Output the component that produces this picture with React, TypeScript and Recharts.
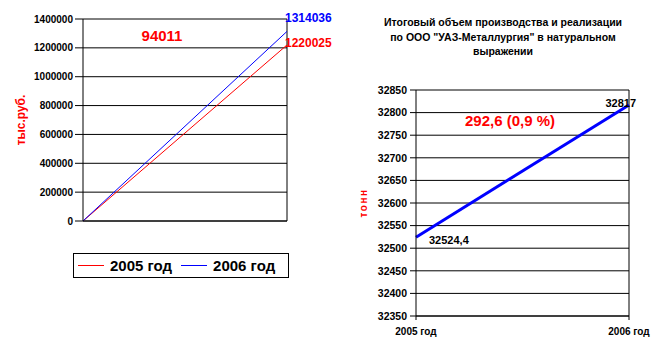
import React from "react";
import { LineChart, Line, XAxis, YAxis, CartesianGrid, Legend, LabelList, ReferenceLine } from "recharts";

const leftPoints = ["start", "end"];
const value2005 = [0, 1220025];
const value2006 = [0, 1314036];
const leftTicks = [0, 200000, 400000, 600000, 800000, 1000000, 1200000, 1400000];

const rightYears = ["2005 год", "2006 год"];
const tonnes = [32524.4, 32817];
const rightTicks = [32350, 32400, 32450, 32500, 32550, 32600, 32650, 32700, 32750, 32800, 32850];

const FONT = "'Liberation Sans', Arial, sans-serif";

const leftData = leftPoints.map((p, i) => ({ p, y2005: value2005[i], y2006: value2006[i] }));
const rightData = rightYears.map((year, i) => ({ year, t: tonnes[i] }));

function fmt(v: number) {
  return String(v).replace(".", ",");
}

// rotated axis title, placed at a fixed distance from the axis box's left edge
function AxisTitle({ viewBox, text, shift, size, spacing }: any) {
  const x = viewBox.x + shift;
  const y = viewBox.y + viewBox.height / 2;
  return (
    <text
      x={x}
      y={y}
      transform={`rotate(-90, ${x}, ${y})`}
      textAnchor="middle"
      dominantBaseline="central"
      fill="#ff0000"
      fontWeight="bold"
      fontSize={size}
      letterSpacing={spacing}
      fontFamily={FONT}
    >
      {text}
    </text>
  );
}

function endLabel(color: string, dy: number) {
  return (props: any) => {
    if (props.index !== 1) return null;
    return (
      <text x={props.x - 2} y={props.y + dy} fill={color} fontSize={12} fontWeight="bold" fontFamily={FONT}>
        {props.value}
      </text>
    );
  };
}

function tonLabel(props: any) {
  const { x, y, value, index } = props;
  if (index === 0) {
    return (
      <text x={x + 13} y={y + 7} fill="#000" fontSize={11} fontWeight="bold" fontFamily={FONT}>
        {fmt(value)}
      </text>
    );
  }
  return (
    <text x={x + 7} y={y + 2} textAnchor="end" fill="#000" fontSize={11} fontWeight="bold" fontFamily={FONT}>
      {fmt(value)}
    </text>
  );
}

function LegendBox() {
  const item = (color: string, label: string) => (
    <span style={{ display: "inline-flex", alignItems: "center" }}>
      <span style={{ display: "inline-block", width: 26, height: 1, background: color, marginRight: 6 }} />
      <span>{label}</span>
    </span>
  );
  return (
    <div
      style={{
        boxSizing: "border-box",
        width: 216,
        height: 25,
        border: "1px solid #000",
        display: "flex",
        alignItems: "center",
        gap: 9,
        paddingLeft: 4,
        fontFamily: FONT,
        fontWeight: "bold",
        fontSize: 15,
        color: "#000",
      }}
    >
      {item("#ff0000", "2005 год")}
      {item("#0000ff", "2006 год")}
    </div>
  );
}

const tickStyle = { fontSize: 10, fontWeight: "bold", fill: "#000", fontFamily: FONT };

export default function App() {
  return (
    <div style={{ position: "absolute", left: 0, top: 0, width: 670, height: 358, background: "#fff", fontFamily: FONT }}>
      <div style={{ position: "absolute", left: 0, top: 0 }}>
        <LineChart width={340} height={300} data={leftData} margin={{ top: 19, right: 53, left: 0, bottom: 78 }}>
          <CartesianGrid vertical={false} stroke="#000" />
          <XAxis dataKey="p" tick={false} tickLine={false} axisLine={{ stroke: "#000" }} height={1} />
          <YAxis
            width={83}
            domain={[0, 1400000]}
            ticks={leftTicks}
            interval={0}
            tick={tickStyle}
            tickSize={8}
            tickMargin={2}
            tickLine={{ stroke: "#000" }}
            axisLine={{ stroke: "#000" }}
            label={<AxisTitle text="тыс.руб." shift={21} size={12} spacing={0} />}
          />
          <ReferenceLine x="end" stroke="#000" />
          <Line type="linear" dataKey="y2005" name="2005 год" stroke="#ff0000" strokeWidth={1} dot={false} isAnimationActive={false}>
            <LabelList dataKey="y2005" content={endLabel("#ff0000", 2)} />
          </Line>
          <Line type="linear" dataKey="y2006" name="2006 год" stroke="#0000ff" strokeWidth={1} dot={false} isAnimationActive={false}>
            <LabelList dataKey="y2006" content={endLabel("#0000ff", -9)} />
          </Line>
          <Legend
            layout="horizontal"
            verticalAlign="middle"
            align="center"
            content={<LegendBox />}
            wrapperStyle={{ position: "absolute", left: 73, top: 253, width: 216 }}
          />
        </LineChart>
      </div>
      <div
        style={{
          position: "absolute",
          left: 110,
          top: 27,
          width: 104,
          textAlign: "center",
          color: "#ff0000",
          fontWeight: "bold",
          fontSize: 15,
          lineHeight: "18px",
        }}
      >
        94011
      </div>

      <div
        style={{
          position: "absolute",
          left: 338,
          top: 15,
          width: 330,
          textAlign: "center",
          fontWeight: "bold",
          fontSize: 10.5,
          lineHeight: "14.7px",
          color: "#000",
        }}
      >
        Итоговый объем производства и реализации
        <br />
        по ООО "УАЗ-Металлургия" в натуральном
        <br />
        выражении
      </div>
      <div style={{ position: "absolute", left: 340, top: 0 }}>
        <LineChart width={330} height={358} data={rightData} margin={{ top: 90, right: 41, left: 0, bottom: 12 }}>
          <CartesianGrid vertical={false} stroke="#000" />
          <XAxis
            dataKey="year"
            height={30}
            tick={tickStyle}
            tickSize={4}
            tickMargin={8}
            tickLine={{ stroke: "#000" }}
            axisLine={{ stroke: "#000" }}
            interval={0}
          />
          <YAxis
            width={76}
            domain={[32350, 32850]}
            ticks={rightTicks}
            interval={0}
            tick={{ ...tickStyle, fontSize: 10.5 }}
            tickSize={6}
            tickMargin={3}
            tickLine={{ stroke: "#000" }}
            axisLine={{ stroke: "#000" }}
            label={<AxisTitle text="тонн" shift={23} size={10} spacing={1.5} />}
          />
          <ReferenceLine x="2006 год" stroke="#000" />
          <Line type="linear" dataKey="t" stroke="#0000ff" strokeWidth={3} dot={false} isAnimationActive={false}>
            <LabelList dataKey="t" content={tonLabel} />
          </Line>
        </LineChart>
      </div>
      <div
        style={{
          position: "absolute",
          left: 440,
          top: 112,
          width: 140,
          textAlign: "center",
          color: "#ff0000",
          fontWeight: "bold",
          fontSize: 15,
          lineHeight: "18px",
        }}
      >
        292,6 (0,9 %)
      </div>
    </div>
  );
}
